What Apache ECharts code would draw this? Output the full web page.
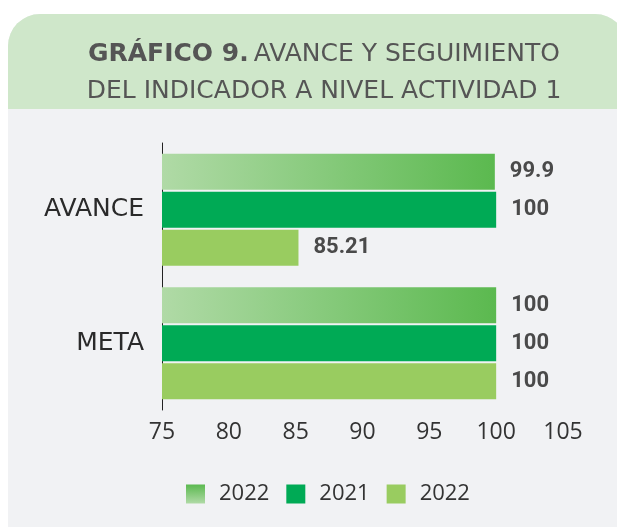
<!DOCTYPE html>
<html>
<head>
<meta charset="utf-8">
<script src="https://cdn.jsdelivr.net/npm/echarts@6/dist/echarts.min.js"></script>
<style>
html,body{margin:0;padding:0;background:#ffffff;}
#chart{width:617px;height:527px;}
</style>
</head>
<body>
<div id="chart"></div>
<script>
var categories = ['AVANCE', 'META'];
var seriesNames = ['2022', '2021', '2022 '];
var values2022a = [99.9, 100];
var values2021 = [100, 100];
var values2022b = [85.21, 100];
var xTicks = [75, 80, 85, 90, 95, 100, 105];

var FONT = 'DejaVu Sans';
var chart = echarts.init(document.getElementById('chart'));

var gradH = new echarts.graphic.LinearGradient(0, 0, 1, 0, [
  {offset: 0, color: '#b0daa6'},
  {offset: 1, color: '#5bb94f'}
]);
var gradV = new echarts.graphic.LinearGradient(0, 0, 0, 1, [
  {offset: 0, color: '#5bb94f'},
  {offset: 1, color: '#b0daa6'}
]);

var labelCfg = {
  show: true,
  position: 'right',
  distance: 15,
  fontFamily: 'Roboto',
  fontWeight: 'bold',
  fontSize: 22,
  color: '#4a4a4a'
};

chart.setOption({
  animation: false,
  graphic: [
    {type: 'rect', z: -10, shape: {x: 8, y: 14, width: 619, height: 520, r: [32, 32, 0, 0]}, style: {fill: '#f1f2f4'}},
    {type: 'rect', z: -9, shape: {x: 8, y: 14, width: 619, height: 95, r: [32, 32, 0, 0]}, style: {fill: '#cfe7ca'}}
  ],
  title: {
    left: 319,
    top: 31,
    textAlign: 'center',
    text: '{b|GRÁFICO 9.} {n|AVANCE Y SEGUIMIENTO}\n{n|DEL INDICADOR A NIVEL ACTIVIDAD 1}',
    textStyle: {
      rich: {
        b: {fontFamily: FONT, fontWeight: 'bold', fontSize: 25, color: '#555555', lineHeight: 37},
        n: {fontFamily: FONT, fontWeight: 'normal', fontSize: 25, color: '#555555', lineHeight: 37}
      }
    }
  },
  legend: {
    bottom: 17,
    left: 181,
    icon: 'rect',
    itemWidth: 19,
    itemHeight: 19,
    itemGap: 17,
    textStyle: {fontFamily: 'Open Sans', fontSize: 22, color: '#333333', padding: [0, 0, 0, 9]},
    data: [
      {name: seriesNames[0], itemStyle: {color: gradV}},
      {name: seriesNames[1]},
      {name: seriesNames[2]}
    ]
  },
  grid: {left: 162, right: 54, top: 143, bottom: 117},
  xAxis: {
    type: 'value',
    min: 75,
    max: 105,
    interval: 5,
    axisLine: {show: false},
    axisTick: {show: false},
    splitLine: {show: false},
    axisLabel: {fontFamily: 'Open Sans', fontSize: 23, color: '#333333', margin: 11,
      formatter: function (v) { return xTicks.indexOf(v) >= 0 ? String(v) : ''; }}
  },
  yAxis: {
    type: 'category',
    inverse: true,
    data: categories,
    axisLine: {show: true, lineStyle: {color: '#222222', width: 1}},
    axisTick: {show: false},
    axisLabel: {fontFamily: FONT, fontSize: 25, color: '#2a2a2a', margin: 18}
  },
  series: [
    {name: seriesNames[0], type: 'bar', data: values2022a, barCategoryGap: '16%', barGap: '5%',
      itemStyle: {color: gradH}, label: labelCfg},
    {name: seriesNames[1], type: 'bar', data: values2021, barCategoryGap: '16%', barGap: '5%',
      itemStyle: {color: '#00aa55'}, label: labelCfg},
    {name: seriesNames[2], type: 'bar', data: values2022b, barCategoryGap: '16%', barGap: '5%',
      itemStyle: {color: '#99cc60'}, label: labelCfg}
  ]
});
</script>
</body>
</html>
